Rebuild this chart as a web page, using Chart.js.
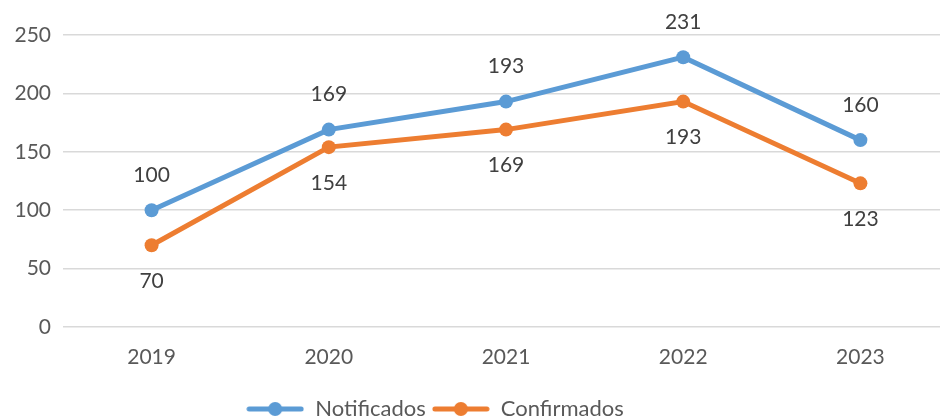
<!DOCTYPE html>
<html><head><meta charset="utf-8">
<script src="https://cdn.jsdelivr.net/npm/chart.js@4/dist/chart.umd.min.js"></script>
<style>
html,body{margin:0;padding:0;background:#fff;overflow:hidden;}
#wrap{width:960px;height:419px;position:relative;}
</style></head>
<body><div id="wrap"><canvas id="c" width="956" height="419"></canvas></div>
<script>
const categories = ['2019','2020','2021','2022','2023'];
const notificados = [100,169,193,231,160];
const confirmados = [70,154,169,193,123];
const seriesNames = ['Notificados','Confirmados'];
const yTicks = [0,50,100,150,200,250];

const BLUE = '#5B9BD5', ORANGE = '#ED7D31';
const FONT = 'Lato, "Open Sans", sans-serif';

function legendIcon(color){
  const c = document.createElement('canvas');
  c.width = 58; c.height = 16;
  const g = c.getContext('2d');
  g.strokeStyle = color; g.lineWidth = 5; g.lineCap = 'round';
  g.beginPath(); g.moveTo(3,8); g.lineTo(55,8); g.stroke();
  g.fillStyle = color; g.beginPath(); g.arc(29,8,7,0,Math.PI*2); g.fill();
  return c;
}

const labelPlugin = {
  id:'vlabels',
  afterDatasetsDraw(chart){
    const ctx = chart.ctx;
    ctx.save();
    ctx.font = '21px ' + FONT;
    ctx.fillStyle = '#404040';
    ctx.textAlign = 'center';
    ctx.textBaseline = 'middle';
    chart.data.datasets.forEach((ds,i)=>{
      const meta = chart.getDatasetMeta(i);
      meta.data.forEach((pt,j)=>{
        const dy = i===0 ? -35 : 36;
        ctx.fillText(String(ds.data[j]), pt.x, pt.y+dy);
      });
    });
    ctx.restore();
  }
};
const legendShift = {
  id:'legendShift',
  afterLayout(chart){
    const l = chart.legend;
    if(l){ l.left -= 42; l.right -= 42; l.top += 13; l.bottom += 13; }
  }
};

new Chart(document.getElementById('c'),{
  type:'line',
  data:{
    labels:categories,
    datasets:[
      {label:seriesNames[0],data:notificados,borderColor:BLUE,backgroundColor:BLUE,borderWidth:5,pointRadius:7,pointBackgroundColor:BLUE,pointBorderWidth:0,tension:0,legendIcon:legendIcon(BLUE)},
      {label:seriesNames[1],data:confirmados,borderColor:ORANGE,backgroundColor:ORANGE,borderWidth:5,pointRadius:7,pointBackgroundColor:ORANGE,pointBorderWidth:0,tension:0,legendIcon:legendIcon(ORANGE)}
    ]
  },
  options:{
    responsive:false,animation:false,
    layout:{padding:{top:35,left:0,right:2,bottom:2}},
    plugins:{
      tooltip:{enabled:false},
      legend:{
        position:'bottom',
        labels:{
          usePointStyle:true,pointStyleWidth:58,boxHeight:16,padding:6,
          color:'#595959',font:{family:FONT,size:22},
          generateLabels(chart){
            return chart.data.datasets.map((ds,i)=>({text:ds.label,pointStyle:ds.legendIcon,fillStyle:ds.borderColor,strokeStyle:ds.borderColor,lineWidth:0,datasetIndex:i,fontColor:'#595959'}));
          }
        }
      }
    },
    scales:{
      x:{
        offset:true,
        grid:{display:false,drawTicks:false},
        border:{display:false},
        ticks:{color:'#595959',font:{family:FONT,size:21},padding:18},
        afterFit(s){ s.height = 52; }
      },
      y:{
        min:0,max:250,
        afterBuildTicks(s){ s.ticks = yTicks.map(v=>({value:v})); },
        grid:{color:'#D9D9D9',lineWidth:1.5,drawTicks:false},
        border:{display:false},
        ticks:{color:'#595959',font:{family:FONT,size:21},padding:12},
        afterFit(s){ s.width = 63; }
      }
    }
  },
  plugins:[labelPlugin,legendShift]
});
</script></body></html>
